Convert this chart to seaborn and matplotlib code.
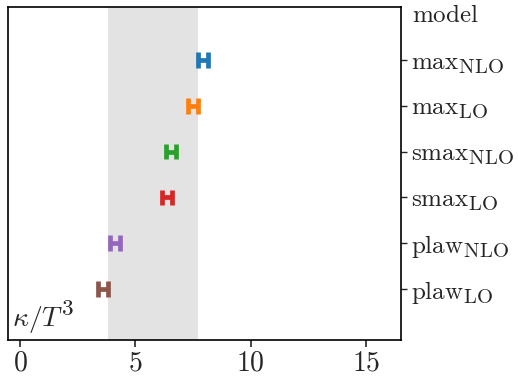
import matplotlib
matplotlib.use("Agg")
import matplotlib.pyplot as plt
import matplotlib.transforms as mtransforms
import matplotlib._mathtext as _mt
import seaborn as sns
import pandas as pd

models = ["maxNLO", "maxLO", "smaxNLO", "smaxLO", "plawNLO", "plawLO"]
labels = [r"$\mathrm{max}_{\mathrm{NLO}}$", r"$\mathrm{max}_{\mathrm{LO}}$",
          r"$\mathrm{smax}_{\mathrm{NLO}}$", r"$\mathrm{smax}_{\mathrm{LO}}$",
          r"$\mathrm{plaw}_{\mathrm{NLO}}$", r"$\mathrm{plaw}_{\mathrm{LO}}$"]
lower = [7.70, 7.26, 6.34, 6.15, 3.90, 3.39]
upper = [8.14, 7.70, 6.78, 6.59, 4.34, 3.83]
band = (3.81, 7.70)
xticks = [0, 5, 10, 15]

# larger subscripts, as in the reference rendering
_mt.SHRINK_FACTOR = 0.83

sns.set_style("ticks")
plt.rcParams["mathtext.fontset"] = "cm"
plt.rcParams["font.family"] = ["DejaVu Serif"]

df = pd.DataFrame({
    "model": models + models,
    "kappa": lower + upper,
})

fig = plt.figure(figsize=(5.18, 3.76), dpi=100)
ax = fig.add_axes([8/518, 1-340/376, (401-8)/518, (340-7)/376])

ax.axvspan(band[0], band[1], color="#e3e3e3", zorder=0, lw=0)

sns.pointplot(data=df, x="kappa", y="model", hue="model", order=models,
              hue_order=models, palette="tab10",
              estimator="mean", errorbar=lambda v: (v.min(), v.max()),
              capsize=0.34,
              err_kws={"linewidth": 3.4, "solid_capstyle": "butt"},
              linestyle="none", marker="", legend=False, ax=ax)

ax.set_xlim(-0.52, 16.51)
ax.set_ylim(5 + (340-289)/45.8, -(60-7)/45.8)
ax.set_xticks(xticks)
ax.set_xticklabels([rf"${t}$" for t in xticks], fontsize=20)
ax.set_yticks(range(len(models)))
ax.set_yticklabels(labels, fontsize=18)
ax.yaxis.tick_right()
ax.tick_params(axis="y", length=4, width=1, pad=3)
ax.tick_params(axis="x", length=5, width=1.2, pad=1.5)
ax.set_xlabel("")
ax.set_ylabel("")
for s in ax.spines.values():
    s.set_visible(True)
    s.set_linewidth(1.2)
    s.set_color("black")

trans = mtransforms.blended_transform_factory(ax.transAxes, ax.transData)
ax.text(1.028, -0.98, r"$\mathrm{model}$", transform=trans, fontsize=18,
        ha="left", va="center")
ax.text(0.01, 0.039, r"$\kappa/T^3$", transform=ax.transAxes, fontsize=20,
        ha="left", va="baseline")

fig.savefig("out.png", dpi=100)
